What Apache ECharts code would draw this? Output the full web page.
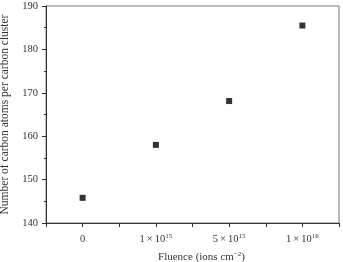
<!DOCTYPE html>
<html>
<head>
<meta charset="utf-8">
<script src="https://cdn.jsdelivr.net/npm/echarts@6/dist/echarts.min.js"></script>
<style>
  html, body { margin: 0; padding: 0; background: #fff; }
  #chart { width: 343px; height: 262px; }
</style>
</head>
<body>
<div id="chart"></div>
<script>
// fluence categories, placed at 0..3 on the x axis
var fluenceLabels = ['0', '1\u2009\u00d7\u200910{sup|15}', '5\u2009\u00d7\u200910{sup|15}', '1\u2009\u00d7\u200910{sup|16}'];
var carbonAtoms = [145.8, 158.0, 168.1, 185.5];
var yTicks = [140, 150, 160, 170, 180, 190];

var font = 'Liberation Serif';
var supRich = {
    sup: { fontSize: 7, verticalAlign: 'top', lineHeight: 12, fontFamily: font, color: '#333' }
};

var points = carbonAtoms.map(function (v, i) { return [i, v]; });

var chart = echarts.init(document.getElementById('chart'));
chart.setOption({
    animation: false,
    grid: {
        left: 46, right: 4, top: 6, bottom: 39,
        outerBoundsMode: 'none',
        show: true, borderColor: '#777', borderWidth: 1
    },
    xAxis: {
        type: 'value',
        min: -0.5, max: 3.5, interval: 0.5,
        name: 'Fluence (ions cm{sup|\u22122})',
        nameLocation: 'middle',
        nameGap: 28,
        nameTextStyle: {
            fontFamily: font, fontSize: 11, color: '#333', lineHeight: 12,
            padding: [0, 0, 0, 18],
            rich: supRich
        },
        axisLine: { onZero: false, lineStyle: { color: '#333', width: 1 } },
        axisTick: { length: 4, lineStyle: { color: '#333' } },
        splitLine: { show: false },
        axisLabel: {
            margin: 10,
            fontFamily: font, fontSize: 10.5, color: '#333', lineHeight: 12,
            rich: supRich,
            formatter: function (v) {
                return Number.isInteger(v) && fluenceLabels[v] !== undefined ? fluenceLabels[v] : '';
            }
        }
    },
    yAxis: {
        type: 'value',
        min: yTicks[0], max: yTicks[yTicks.length - 1], interval: 10,
        name: 'Number of carbon atoms per carbon cluster',
        nameLocation: 'middle',
        nameGap: 33,
        nameTextStyle: { fontFamily: font, fontSize: 11.5, color: '#333' },
        axisLine: { show: true, onZero: false, lineStyle: { color: '#333', width: 1 } },
        axisTick: { show: true, length: 4, lineStyle: { color: '#333' } },
        minorTick: { show: true, splitNumber: 2, length: 2, lineStyle: { color: '#333' } },
        splitLine: { show: false },
        axisLabel: { margin: 8, fontFamily: font, fontSize: 10.5, color: '#333' }
    },
    series: [{
        type: 'scatter',
        data: points,
        symbol: 'rect',
        symbolSize: 6,
        itemStyle: { color: '#000' }
    }]
});
</script>
</body>
</html>
